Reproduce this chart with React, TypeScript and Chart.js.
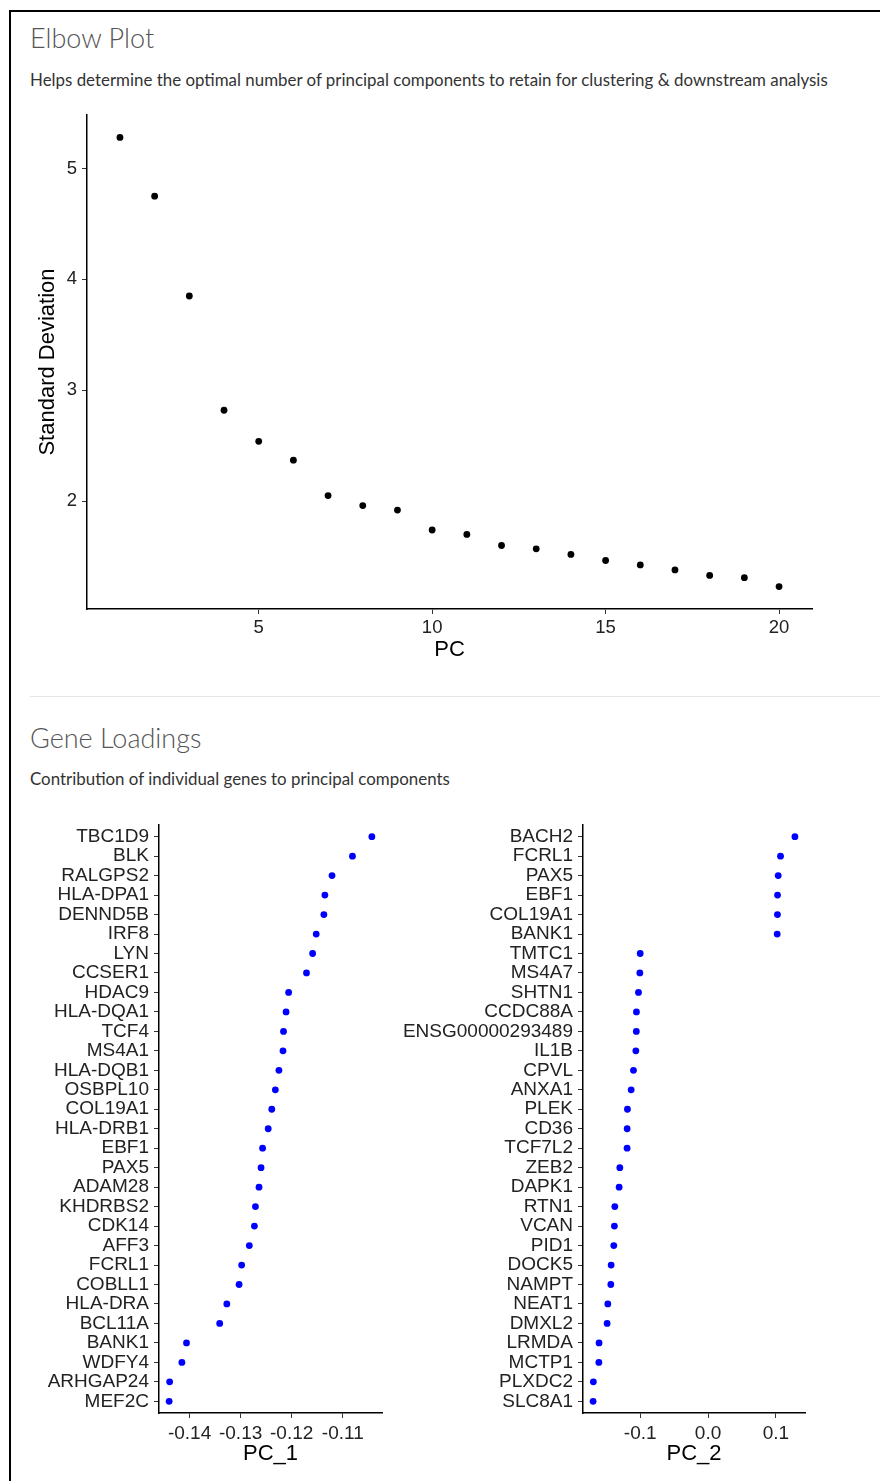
import React, { useEffect, useRef } from "react";
import { Chart, registerables } from "chart.js";

Chart.register(...registerables);

// ---------- Elbow plot data ----------
const pcNumbers = [1, 2, 3, 4, 5, 6, 7, 8, 9, 10, 11, 12, 13, 14, 15, 16, 17, 18, 19, 20];
const stdevValues = [5.28, 4.75, 3.85, 2.82, 2.54, 2.37, 2.05, 1.96, 1.92, 1.74, 1.70, 1.60, 1.57, 1.52, 1.465, 1.425, 1.38, 1.33, 1.31, 1.23];
const elbowXTicks = [5, 10, 15, 20];
const elbowYTicks = [2, 3, 4, 5];

// ---------- Gene loadings data (top to bottom) ----------
const pc1Genes = [
  "TBC1D9", "BLK", "RALGPS2", "HLA-DPA1", "DENND5B", "IRF8", "LYN", "CCSER1", "HDAC9", "HLA-DQA1",
  "TCF4", "MS4A1", "HLA-DQB1", "OSBPL10", "COL19A1", "HLA-DRB1", "EBF1", "PAX5", "ADAM28", "KHDRBS2",
  "CDK14", "AFF3", "FCRL1", "COBLL1", "HLA-DRA", "BCL11A", "BANK1", "WDFY4", "ARHGAP24", "MEF2C",
];
const pc1Values = [
  -0.1043, -0.1081, -0.1121, -0.1135, -0.1137, -0.1152, -0.1159, -0.1171, -0.1206, -0.1211,
  -0.1216, -0.1217, -0.1225, -0.1232, -0.1239, -0.1246, -0.1257, -0.1260, -0.1264, -0.1271,
  -0.1273, -0.1283, -0.1298, -0.1303, -0.1327, -0.1341, -0.1406, -0.1415, -0.1439, -0.1440,
];
const pc1Ticks = [-0.14, -0.13, -0.12, -0.11];

const pc2Genes = [
  "BACH2", "FCRL1", "PAX5", "EBF1", "COL19A1", "BANK1", "TMTC1", "MS4A7", "SHTN1", "CCDC88A",
  "ENSG00000293489", "IL1B", "CPVL", "ANXA1", "PLEK", "CD36", "TCF7L2", "ZEB2", "DAPK1", "RTN1",
  "VCAN", "PID1", "DOCK5", "NAMPT", "NEAT1", "DMXL2", "LRMDA", "MCTP1", "PLXDC2", "SLC8A1",
];
const pc2Values = [
  0.1280, 0.1068, 0.1034, 0.1024, 0.1023, 0.1019, -0.1000, -0.1005, -0.1025, -0.1055,
  -0.1057, -0.1064, -0.1099, -0.1133, -0.1188, -0.1192, -0.1193, -0.1300, -0.1310, -0.1374,
  -0.1380, -0.1389, -0.1428, -0.1433, -0.1477, -0.1487, -0.1606, -0.1609, -0.1690, -0.1694,
];
const pc2Ticks = [-0.1, 0.0, 0.1];

// ---------- helpers ----------
const expand = (vals: number[], frac = 0.05): [number, number] => {
  const lo = Math.min(...vals);
  const hi = Math.max(...vals);
  const d = (hi - lo) * frac;
  return [lo - d, hi + d];
};

const AXIS_FONT = "'Liberation Sans', Arial, Helvetica, sans-serif";
const TITLE_SIZE = 22;

type ScatterSpec = {
  points: { x: number; y: number }[];
  color: string;
  radius: number;
  xMin: number;
  xMax: number;
  yMin: number;
  yMax: number;
  xTicks: number[];
  yTicks: number[];
  xFormat: (v: number) => string;
  yFormat: (v: number) => string;
  xTitle: string;
  yTitle?: string;
  yWidth: number;
  xHeight: number;
  padTop: number;
  padRight: number;
  xTitlePadBottom: number;
  yTitlePadTop: number;
  tickSize: number;
  xTickPad: number;
  yTickPad: number;
};

function ScatterCanvas({ spec, width, height, style }: { spec: ScatterSpec; width: number; height: number; style: React.CSSProperties }) {
  const ref = useRef<HTMLCanvasElement | null>(null);
  useEffect(() => {
    if (!ref.current) return;
    const tickFont = { family: AXIS_FONT, size: spec.tickSize };
    const titleFont = { family: AXIS_FONT, size: TITLE_SIZE };
    const chart = new Chart(ref.current, {
      type: "scatter",
      data: {
        datasets: [
          {
            data: spec.points,
            backgroundColor: spec.color,
            borderWidth: 0,
            pointRadius: spec.radius,
            pointHoverRadius: spec.radius,
          },
        ],
      },
      options: {
        responsive: false,
        animation: false,
        devicePixelRatio: 1,
        layout: { padding: { top: spec.padTop, right: spec.padRight, left: 0, bottom: 0 } },
        plugins: { legend: { display: false }, tooltip: { enabled: false } },
        scales: {
          x: {
            type: "linear",
            min: spec.xMin,
            max: spec.xMax,
            afterBuildTicks: (s: any) => {
              s.ticks = spec.xTicks.map((v) => ({ value: v }));
            },
            afterFit: (s: any) => {
              s.height = spec.xHeight;
              s.paddingLeft = 0;
              s.paddingRight = 0;
            },
            ticks: {
              callback: (v: any) => spec.xFormat(Number(v)),
              font: tickFont,
              color: "#222222",
              padding: spec.xTickPad,
              maxRotation: 0,
              autoSkip: false,
            },
            grid: { display: true, drawOnChartArea: false, drawTicks: true, tickLength: 5, tickColor: "#333333", lineWidth: 1 },
            border: { display: true, color: "#000000", width: 1.5 },
            title: { display: true, text: spec.xTitle, font: titleFont, color: "#000000", padding: { top: 0, bottom: spec.xTitlePadBottom } },
          },
          y: {
            type: "linear",
            min: spec.yMin,
            max: spec.yMax,
            afterBuildTicks: (s: any) => {
              s.ticks = spec.yTicks.map((v) => ({ value: v }));
            },
            afterFit: (s: any) => {
              s.width = spec.yWidth;
              s.paddingTop = 0;
              s.paddingBottom = 0;
            },
            ticks: {
              callback: (v: any) => spec.yFormat(Number(v)),
              font: tickFont,
              color: "#222222",
              padding: spec.yTickPad,
              autoSkip: false,
            },
            grid: { display: true, drawOnChartArea: false, drawTicks: true, tickLength: 5, tickColor: "#333333", lineWidth: 1 },
            border: { display: true, color: "#000000", width: 1.5 },
            title: {
              display: !!spec.yTitle,
              text: spec.yTitle || "",
              font: titleFont,
              color: "#000000",
              padding: { top: spec.yTitlePadTop, bottom: 0 },
            },
          },
        },
      },
    } as any);
    return () => chart.destroy();
  }, [spec]);
  return <canvas ref={ref} width={width} height={height} style={{ position: "absolute", width, height, ...style }} />;
}

// ---------- specs ----------
const [eyMin, eyMax] = expand(stdevValues);
const [exMin, exMax] = expand(pcNumbers);
const elbowSpec: ScatterSpec = {
  points: pcNumbers.map((pc, i) => ({ x: pc, y: stdevValues[i] })),
  color: "#000000",
  radius: 3.4,
  xMin: exMin,
  xMax: exMax,
  yMin: eyMin,
  yMax: eyMax,
  xTicks: elbowXTicks,
  yTicks: elbowYTicks,
  xFormat: (v) => String(v),
  yFormat: (v) => String(v),
  xTitle: "PC",
  yTitle: "Standard Deviation",
  yWidth: 57,
  xHeight: 73,
  padTop: 13,
  padRight: 18,
  xTitlePadBottom: 19,
  yTitlePadTop: 5,
  tickSize: 18.5,
  xTickPad: 3,
  yTickPad: 5,
};

const nRows = pc1Genes.length;
const rowIndex = (i: number) => nRows - 1 - i;
const rowTicks = pc1Genes.map((_, i) => i);

const [p1Min, p1Max] = expand(pc1Values);
const pc1Spec: ScatterSpec = {
  points: pc1Values.map((v, i) => ({ x: v, y: rowIndex(i) })),
  color: "#0000FF",
  radius: 3.4,
  xMin: p1Min,
  xMax: p1Max,
  yMin: -0.6,
  yMax: nRows - 1 + 0.6,
  xTicks: pc1Ticks,
  yTicks: rowTicks,
  xFormat: (v) => v.toFixed(2),
  yFormat: (v) => pc1Genes[nRows - 1 - Math.round(v)] || "",
  xTitle: "PC_1",
  yWidth: 139,
  xHeight: 63,
  padTop: 9,
  padRight: 8,
  xTitlePadBottom: 9,
  yTitlePadTop: 0,
  tickSize: 19,
  xTickPad: 4,
  yTickPad: 5,
};

const [p2Min, p2Max] = expand(pc2Values);
const pc2Spec: ScatterSpec = {
  points: pc2Values.map((v, i) => ({ x: v, y: rowIndex(i) })),
  color: "#0000FF",
  radius: 3.4,
  xMin: p2Min,
  xMax: p2Max,
  yMin: -0.6,
  yMax: nRows - 1 + 0.6,
  xTicks: pc2Ticks,
  yTicks: rowTicks,
  xFormat: (v) => v.toFixed(1),
  yFormat: (v) => pc2Genes[nRows - 1 - Math.round(v)] || "",
  xTitle: "PC_2",
  yWidth: 188,
  xHeight: 63,
  padTop: 9,
  padRight: 10,
  xTitlePadBottom: 9,
  yTitlePadTop: 0,
  tickSize: 19,
  xTickPad: 4,
  yTickPad: 5,
};

const HEAD_FONT = "Lato, 'Open Sans', 'Noto Sans', sans-serif";

export default function App() {
  const headStyle: React.CSSProperties = {
    position: "absolute",
    left: 30,
    fontFamily: HEAD_FONT,
    fontWeight: 300,
    fontSize: 27,
    lineHeight: "32px",
    color: "#555555",
    whiteSpace: "nowrap",
    margin: 0,
  };
  const subStyle: React.CSSProperties = {
    position: "absolute",
    left: 30,
    fontFamily: HEAD_FONT,
    fontWeight: 400,
    fontSize: 16.9,
    lineHeight: "20px",
    color: "#333333",
    whiteSpace: "nowrap",
    margin: 0,
  };
  return (
    <div style={{ position: "absolute", left: 0, top: 0, width: 880, height: 1481, overflow: "hidden", background: "#ffffff" }}>
      <div style={{ position: "absolute", left: 9, top: 10, width: 900, height: 1500, border: "2px solid #000000", boxSizing: "border-box" }} />
      <div style={{ ...headStyle, top: 22 }}>Elbow Plot</div>
      <div style={{ ...subStyle, top: 70 }}>Helps determine the optimal number of principal components to retain for clustering &amp; downstream analysis</div>
      <ScatterCanvas spec={elbowSpec} width={800} height={580} style={{ left: 30, top: 102 }} />
      <div style={{ position: "absolute", left: 30, top: 696, width: 860, height: 1, background: "#e5e5e5" }} />
      <div style={{ ...headStyle, top: 722 }}>Gene Loadings</div>
      <div style={{ ...subStyle, top: 769 }}>Contribution of individual genes to principal components</div>
      <ScatterCanvas spec={pc1Spec} width={370} height={660} style={{ left: 20, top: 816 }} />
      <ScatterCanvas spec={pc2Spec} width={420} height={660} style={{ left: 395, top: 816 }} />
    </div>
  );
}
